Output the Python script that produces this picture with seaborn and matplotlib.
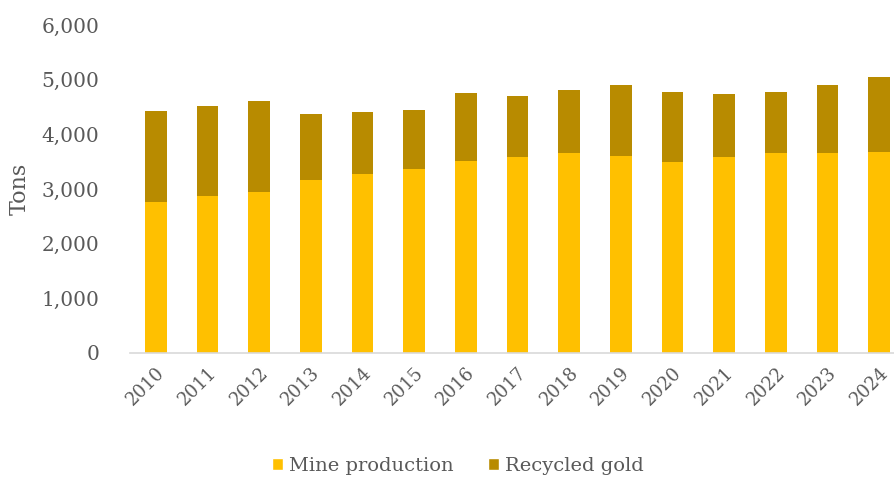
import matplotlib
matplotlib.use("Agg")
import matplotlib.pyplot as plt
import seaborn as sns
import pandas as pd
from matplotlib.patches import Patch

years = ["2010", "2011", "2012", "2013", "2014", "2015", "2016", "2017",
         "2018", "2019", "2020", "2021", "2022", "2023", "2024"]
mine_production = [2755, 2876, 2949, 3163, 3267, 3364, 3504, 3578,
                   3656, 3607, 3486, 3578, 3656, 3656, 3680]
totals = [4430, 4510, 4607, 4364, 4406, 4437, 4748, 4698,
          4803, 4900, 4777, 4729, 4777, 4894, 5046]
recycled_gold = [t - m for t, m in zip(totals, mine_production)]

mine_color = "#FFC000"
recycled_color = "#B88B00"
text_color = "#595959"

df = pd.DataFrame({"year": years, "mine": mine_production,
                   "recycled": recycled_gold})
df["total"] = df["mine"] + df["recycled"]

sns.set_theme(style="white")
plt.rcParams["font.family"] = ["DejaVu Serif"]

fig = plt.figure(figsize=(8.95, 4.79), dpi=100)
ax = fig.add_axes([130 / 895, 1 - 353 / 479, (905 - 130) / 895, (353 - 25) / 479])

sns.barplot(data=df, x="year", y="total", color=recycled_color, width=0.425,
            saturation=1, linewidth=0, ax=ax)
sns.barplot(data=df, x="year", y="mine", color=mine_color, width=0.425,
            saturation=1, linewidth=0, ax=ax)

ax.set_xlim(-0.5, 14.5)
ax.set_ylim(0, 6000)
ax.set_yticks([0, 1000, 2000, 3000, 4000, 5000, 6000])
ax.set_yticklabels([f"{v:,}" for v in [0, 1000, 2000, 3000, 4000, 5000, 6000]])
ax.tick_params(axis="y", length=0, pad=22, labelsize=14.5, labelcolor=text_color)
ax.tick_params(axis="x", length=0, pad=8, labelsize=13, labelcolor=text_color)
for lab in ax.get_xticklabels():
    lab.set_rotation(45)
    lab.set_ha("right")
    lab.set_rotation_mode("anchor")

ax.set_xlabel("")
ax.set_ylabel("Tons", fontsize=16, color=text_color, labelpad=8)

for s in ["top", "right", "left"]:
    ax.spines[s].set_visible(False)
ax.spines["bottom"].set_color("#D9D9D9")
ax.spines["bottom"].set_linewidth(1.2)

handles = [Patch(facecolor=mine_color, label="Mine production"),
           Patch(facecolor=recycled_color, label="Recycled gold")]
fig.legend(handles=handles, loc="center", bbox_to_anchor=(458 / 895, 1 - 466 / 479),
           ncol=2, frameon=False, fontsize=14, handlelength=0.55, handleheight=0.55,
           handletextpad=0.3, columnspacing=1.8, labelcolor=text_color)

fig.savefig("out.png", dpi=100)
